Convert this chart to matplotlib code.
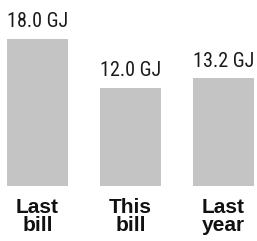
import matplotlib
matplotlib.use("Agg")
import matplotlib.pyplot as plt
import numpy as np

categories = ["Last\nbill", "This\nbill", "Last\nyear"]
values = [18.0, 12.0, 13.2]
value_labels = ["18.0 GJ", "12.0 GJ", "13.2 GJ"]

fig = plt.figure(figsize=(2.57, 2.41), dpi=100)
ax = fig.add_axes([0, 55 / 241, 1, 186 / 241])
x = np.arange(len(categories))
bars = ax.bar(x, values, width=0.66, color="#c4c4c4", edgecolor="none")

ax.set_xlim(-0.403, 2.36)
ax.set_ylim(0, 22.77)

narrow = ["Liberation Sans Narrow", "DejaVu Sans Condensed", "Roboto Condensed", "Open Sans Condensed", "Liberation Sans"]
for b, lab in zip(bars, value_labels):
    ax.annotate(lab, (b.get_x() + b.get_width() / 2, b.get_height()),
                xytext=(0, 5.5), textcoords="offset points",
                ha="center", va="bottom", fontsize=14.5,
                family=narrow, color="#1a1a1a")

ax.set_xticks(x)
ax.set_xticklabels(categories, fontsize=15, fontweight="bold",
                   family="Liberation Sans", color="#111111", linespacing=0.95)
ax.tick_params(axis="x", length=0, pad=8.5)
ax.tick_params(axis="y", left=False, labelleft=False)
for s in ax.spines.values():
    s.set_visible(False)

fig.savefig("out.png", dpi=100, facecolor="white")
